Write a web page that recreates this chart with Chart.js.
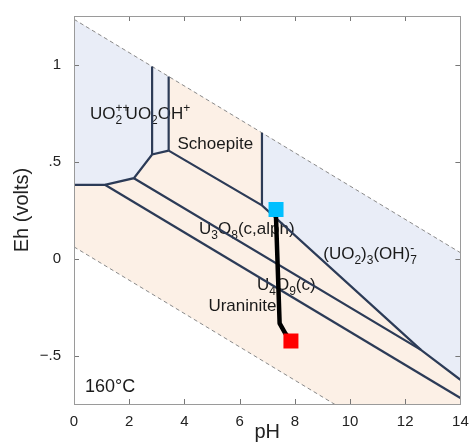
<!DOCTYPE html>
<html lang="en">
<head>
    <meta charset="UTF-8">
    <title>Eh-pH 160°C</title>
    <style>
        body { margin: 0; background: #fff; }
        canvas { display: block; }
    </style>
</head>
<body>
    <canvas id="myChart" width="471" height="442"></canvas>
</body>
</html>
<script src="https://cdn.jsdelivr.net/npm/chart.js"></script>

<script>

    // axes
    var xTicks = [0, 2, 4, 6, 8, 10, 12, 14];
    var yTicks = [-0.5, 0, 0.5, 1];
    var yTickLabels = ['\u2212.5', '0', '.5', '1'];

    // water stability limits [pH, Eh]
    var o2Line = [[0, 1.233], [14, 0.030]];
    var h2Line = [[0, 0.060], [14, -1.143]];

    // field boundaries [pH, Eh]
    var bndLeft = [[0, 0.38], [1.12, 0.38], [2.17, 0.414], [2.83, 0.536], [3.43, 0.556]];
    var bndUO2 = [[2.83, 0.536], [2.83, 0.990]];
    var bndUO2OH = [[3.43, 0.556], [3.43, 0.938]];
    var bndSchoepite = [[3.43, 0.556], [6.81, 0.274], [12.57, -0.471]];
    var bndSchoepiteAq = [[6.81, 0.274], [6.81, 0.648]];
    var bndU3O8 = [[2.17, 0.414], [12.57, -0.471], [14, -0.625]];
    var bndU4O9 = [[1.12, 0.38], [14, -0.719]];

    // field areas [pH, Eh]
    var solidBand = [[0, 1.233], [14, 0.030], [14, -1.143], [0, 0.060]];
    var aqUO2 = [[0, 1.233], [2.83, 0.990], [2.83, 0.536], [2.17, 0.414], [1.12, 0.38], [0, 0.38]];
    var aqUO2OH = [[2.83, 0.990], [3.43, 0.938], [3.43, 0.556], [2.83, 0.536]];
    var aqHydroxide = [[6.81, 0.648], [14, 0.030], [14, -0.625], [12.57, -0.471], [6.81, 0.274]];

    // reaction path
    var pathPoints = [[7.31, 0.25], [7.45, -0.334], [7.65, -0.385], [7.86, -0.425]];
    var pathStart = [[7.32, 0.253]];
    var pathEnd = [[7.86, -0.425]];

    var FONT = '"Liberation Sans", Arial, sans-serif';
    var LINE = '#2c3b57';
    var BLUE = '#e9edf7';
    var PEACH = '#fcf0e6';

    var fieldLabels = [
        { ph: 0.58, eh: 0.72, parts: [['UO'], ['2', 'b0'], ['++', 'p']] },
        { ph: 1.87, eh: 0.72, parts: [['UO'], ['2', 'b'], ['OH'], ['+', 'p']] },
        { ph: 3.75, eh: 0.565, parts: [['Schoepite']] },
        { ph: 4.53, eh: 0.128, parts: [['U'], ['3', 'b'], ['O'], ['8', 'b'], ['(c,alph)']] },
        { ph: 6.63, eh: -0.163, parts: [['U'], ['4', 'b'], ['O'], ['9', 'b'], ['(c)']] },
        { ph: 4.87, eh: -0.271, parts: [['Uraninite']] },
        { ph: 9.03, eh: 0.0, parts: [['(UO'], ['2', 'b'], [')'], ['3', 'b'], ['(OH)'], ['7', 'b0'], ['-', 'p']] },
        { ph: 0.40, eh: -0.69, size: 18, parts: [['160°C']] }
    ];

    function area(pts, color) {
        return { data: pts, showLine: true, fill: 'shape', backgroundColor: color,
                 borderWidth: 0, pointRadius: 0, clip: 0 };
    }
    function dashed(pts) {
        return { data: pts, showLine: true, borderColor: '#8a8a8a', borderWidth: 1,
                 borderDash: [4, 3], pointRadius: 0, clip: 0 };
    }
    function boundary(pts) {
        return { data: pts, showLine: true, borderColor: LINE, borderWidth: 2.2,
                 pointRadius: 0, clip: 0 };
    }

    // draws a label with sub/superscripts; 'b' = sub, 'p' = super, '0' = no advance
    function drawRich(ctx, x, y, parts, size) {
        parts.forEach(function (p) {
            var k = p[1] || '';
            var small = k !== '';
            ctx.font = (small ? 12 : size) + 'px ' + FONT;
            var dy = k.charAt(0) === 'b' ? 5 : (k.charAt(0) === 'p' ? -7 : 0);
            ctx.fillText(p[0], x, y + dy);
            if (k.indexOf('0') < 0) x += ctx.measureText(p[0]).width;
        });
    }

    var labelPlugin = {
        id: 'fieldLabels',
        afterDatasetDraw: function (chart, args) {
            if (!chart.data.datasets[args.index].labelsAfter) return;
            var ctx = chart.ctx;
            var xs = chart.scales.x, ys = chart.scales.y;
            ctx.save();
            ctx.fillStyle = '#1a1a1a';
            ctx.textBaseline = 'alphabetic';
            ctx.textAlign = 'left';
            fieldLabels.forEach(function (l) {
                drawRich(ctx, xs.getPixelForValue(l.ph), ys.getPixelForValue(l.eh), l.parts, l.size || 17);
            });
            ctx.restore();
        }
    };

    var framePlugin = {
        id: 'frame',
        afterDraw: function (chart) {
            var ctx = chart.ctx, a = chart.chartArea;
            var xs = chart.scales.x, ys = chart.scales.y;
            ctx.save();
            ctx.strokeStyle = '#777';
            ctx.lineWidth = 1;
            ctx.beginPath();
            xTicks.forEach(function (v) {
                var px = Math.round(xs.getPixelForValue(v)) + 0.5;
                ctx.moveTo(px, a.bottom); ctx.lineTo(px, a.bottom - 5);
                ctx.moveTo(px, a.top); ctx.lineTo(px, a.top + 5);
            });
            yTicks.forEach(function (v) {
                var py = Math.round(ys.getPixelForValue(v)) + 0.5;
                ctx.moveTo(a.left, py); ctx.lineTo(a.left + 5, py);
                ctx.moveTo(a.right, py); ctx.lineTo(a.right - 5, py);
            });
            ctx.stroke();
            ctx.strokeStyle = '#9a9a9a';
            ctx.strokeRect(Math.round(a.left) + 0.5, Math.round(a.top) + 0.5,
                           Math.round(a.right - a.left), Math.round(a.bottom - a.top));
            ctx.restore();
        }
    };

    function criarGrafico() {
        var ctx = document.getElementById('myChart');
        var peach = area(solidBand, PEACH);
        var lastArea = area(aqHydroxide, BLUE);
        lastArea.labelsAfter = true;

        var datasets = [
            peach,
            area(aqUO2, BLUE),
            area(aqUO2OH, BLUE),
            lastArea,
            dashed(o2Line),
            dashed(h2Line),
            boundary(bndLeft),
            boundary(bndUO2),
            boundary(bndUO2OH),
            boundary(bndSchoepite),
            boundary(bndSchoepiteAq),
            boundary(bndU3O8),
            boundary(bndU4O9),
            { data: pathPoints, showLine: true, borderColor: '#000', borderWidth: 4.5,
              pointRadius: 0, clip: 0, borderJoinStyle: 'round' },
            { data: pathStart, pointStyle: 'rect', pointRadius: 10.6, backgroundColor: '#00bfff',
              borderWidth: 0, clip: 0 },
            { data: pathEnd, pointStyle: 'rect', pointRadius: 10.6, backgroundColor: '#ff0000',
              borderWidth: 0, clip: 0 }
        ];
        // first dataset at the back
        datasets.forEach(function (d, i) { d.order = datasets.length - i; });

        new Chart(ctx, {
            type: 'scatter',
            data: { datasets: datasets },
            options: {
                responsive: false,
                animation: false,
                events: [],
                layout: { padding: { top: 16, right: 8, left: 0, bottom: 0 } },
                plugins: { legend: { display: false }, tooltip: { enabled: false } },
                scales: {
                    x: {
                        type: 'linear', min: 0, max: 14,
                        afterFit: function (s) { s.height = 38; },
                        afterBuildTicks: function (s) { s.ticks = xTicks.map(function (v) { return { value: v }; }); },
                        grid: { display: false },
                        border: { display: false },
                        ticks: { padding: 1, color: '#222', font: { size: 15, family: FONT } },
                        title: { display: true, text: 'pH', color: '#222', padding: 0,
                                 font: { size: 20, family: FONT, lineHeight: 1 } }
                    },
                    y: {
                        type: 'linear', min: -0.75, max: 1.25,
                        afterFit: function (s) { s.width = 74; },
                        afterBuildTicks: function (s) { s.ticks = yTicks.map(function (v) { return { value: v }; }); },
                        grid: { display: false },
                        border: { display: false },
                        ticks: {
                            padding: 5, color: '#222', font: { size: 15, family: FONT },
                            callback: function (v) { return yTickLabels[yTicks.indexOf(v)]; }
                        },
                        title: { display: true, text: 'Eh (volts)', color: '#222', padding: { top: 10 },
                                 font: { size: 20, family: FONT, lineHeight: 1.2 } }
                    }
                }
            },
            plugins: [labelPlugin, framePlugin]
        });
    }

    criarGrafico()
</script>
